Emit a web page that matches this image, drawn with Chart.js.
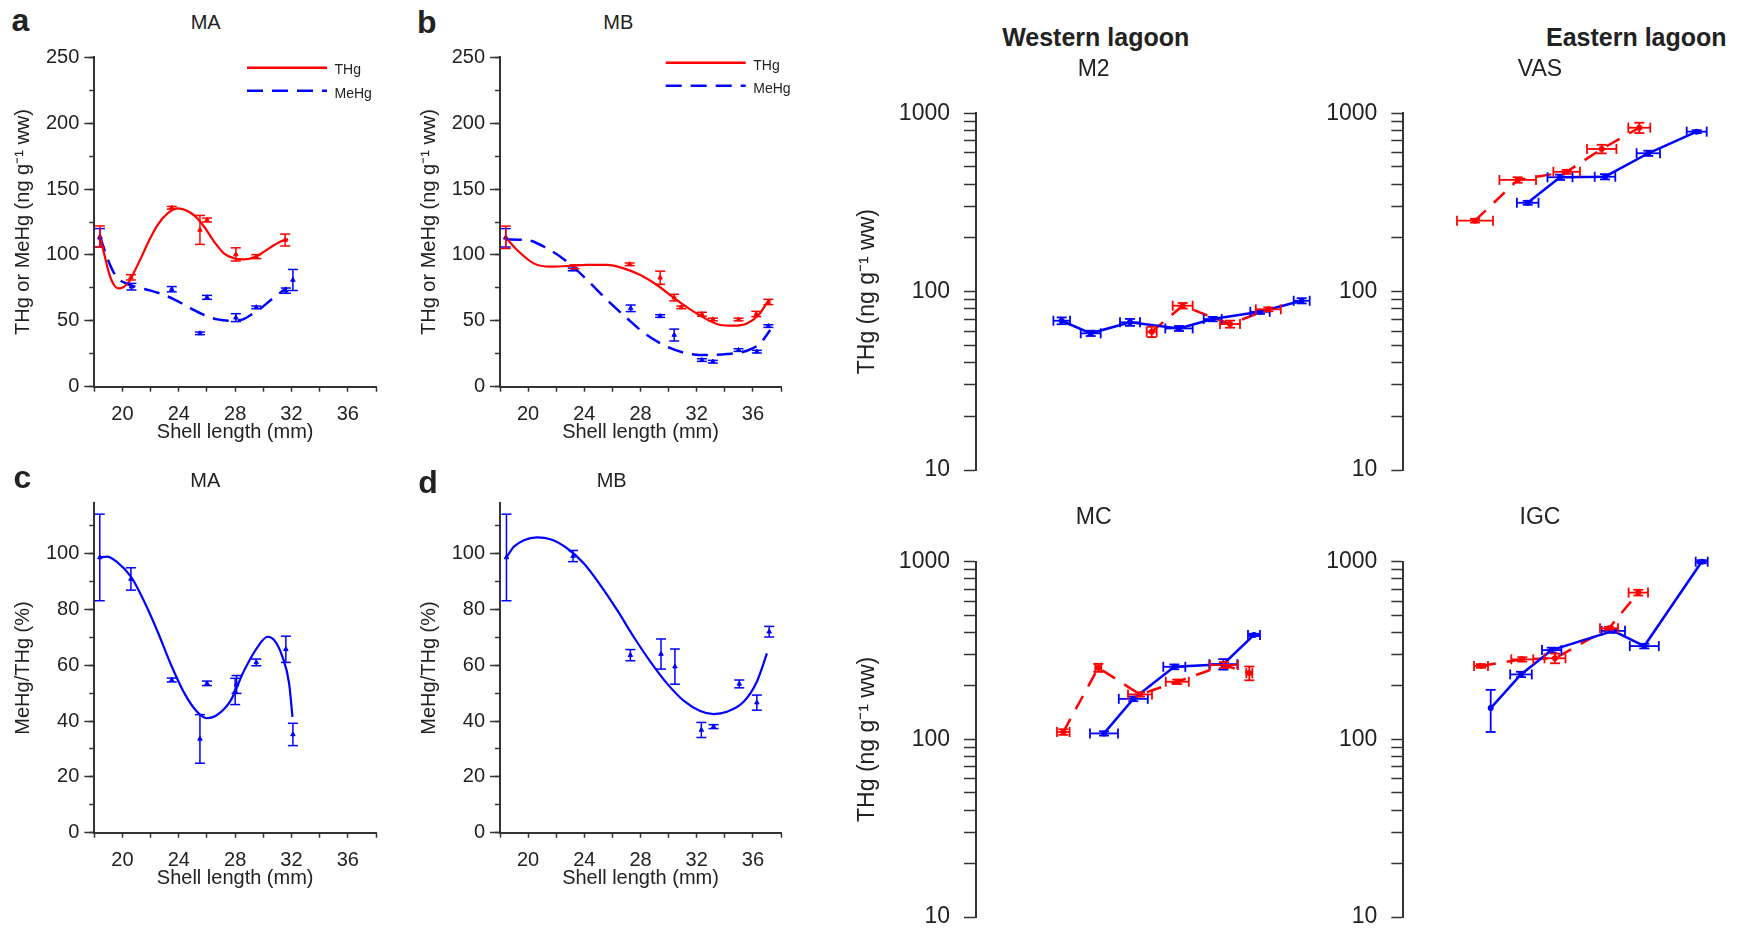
<!DOCTYPE html>
<html><head><meta charset="utf-8">
<script src="https://cdn.jsdelivr.net/npm/chart.js"></script>
<style>
html,body{margin:0;padding:0;background:#fff;width:1742px;height:930px;overflow:hidden;font-family:"Liberation Sans",Arial,Helvetica,sans-serif;}
.box{position:absolute;}
.lbl{position:absolute;white-space:nowrap;color:#222;transform:translateX(-50%);}
</style></head><body>
<script>
// ---------------- Tick values / labels ----------------
const lenTicks = [18,20,22,24,26,28,30,32,34,36,38];
const lenLabels = [20,24,28,32,36];
const concTicks = [0,25,50,75,100,125,150,175,200,225,250];
const concLabels = [0,50,100,150,200,250];
const pctTicks = [0,10,20,30,40,50,60,70,80,90,100,110];
const pctLabels = [0,20,40,60,80,100];
const logTicks = [10,20,30,40,50,60,70,80,90,100,200,300,400,500,600,700,800,900,1000];
const logLabels = [10,100,1000];

// ---------------- Panel a: MA, THg & MeHg (ng g-1 ww) ----------------
const MA_THg_len = [18.4, 20.6, 23.5, 25.5, 26.0, 28.05, 29.5, 31.55];
const MA_THg = [114, 83, 135.8, 119, 126.5, 100.4, 98.7, 111.3];
const MA_THg_sd = [8, 2, 1, 11, 1.5, 5, 1.5, 4.5];
const MA_MeHg_len = [18.4, 20.64, 23.5, 25.5, 26.0, 28.05, 29.5, 31.6, 32.1];
const MA_MeHg = [113, 75.9, 74, 40.5, 67.8, 52.4, 60.2, 72.9, 81];
const MA_MeHg_sd = [7, 2.5, 2, 1, 1.5, 3, 1, 2, 8];
const MA_THg_fit_len = [18.39,18.70,19.05,19.41,19.76,20.12,20.47,20.83,21.30,21.89,22.49,23.20,23.91,24.50,25.09,25.80,26.51,27.22,27.93,28.64,29.35,30.06,30.77,31.48,31.76];
const MA_THg_fit = [114,101,86,77,74.6,75.9,79.7,87,97.4,111,122.7,131.5,135.3,134,130,121.4,110,101,97.4,96.6,98.2,102.5,107.5,111.3,111.8];
const MA_MeHg_fit_len = [18.39,18.93,19.53,20.24,21.07,22.01,22.96,23.91,24.85,25.80,26.75,27.69,28.40,29.11,29.82,30.53,31.24,31.67];
const MA_MeHg_fit = [114.4,97.4,84,78.4,75.4,72.9,69.6,65,59.5,54.4,51.1,50.1,50.6,54.4,59.5,65.8,71.6,75.4];

// ---------------- Panel b: MB ----------------
const MB_THg_len = [18.41, 23.3, 27.23, 29.4, 30.4, 30.9, 32.37, 33.15, 34.98, 36.24, 37.1];
const MB_THg = [113.4, 91, 92.9, 82.7, 67.6, 60.2, 55, 51, 51, 55.2, 64.3];
const MB_THg_sd = [8.5, 1.5, 1, 5, 2.5, 1, 1.5, 1, 1, 2, 2];
const MB_MeHg_len = [18.41, 23.18, 27.3, 29.4, 30.4, 32.37, 33.15, 34.98, 36.28, 37.1];
const MB_MeHg = [113, 89, 59.5, 53.6, 39.2, 20.2, 19, 27.8, 26.6, 46];
const MB_MeHg_sd = [7, 1, 2.5, 1, 4.5, 1, 1, 1, 1, 1];
const MB_THg_fit_len = [18.41,19.22,20.40,21.59,22.77,24.20,25.62,26.80,27.99,29.17,30.36,31.54,32.73,33.68,34.62,35.57,36.40,36.99,37.23];
const MB_THg_fit = [113.4,103.7,93.6,91.1,91.6,92.4,92.4,89.8,84.8,77.2,67.6,58.7,51.1,46.8,46.3,48,54.4,63.3,65.8];
const MB_MeHg_fit_len = [18.41,19.93,21.35,22.77,24.20,25.62,27.04,28.46,29.88,31.31,32.73,34.15,35.57,36.52,37.23];
const MB_MeHg_fit = [111.8,111.3,105,94.9,81,65.8,51.9,39.2,30.4,25.3,24,24.8,27.3,32.9,43];

// ---------------- Panel c: MA, MeHg/THg (%) ----------------
const MA_pct_len = [18.39, 20.6, 23.5, 25.5, 26.0, 28.0, 28.1, 29.5, 31.6, 32.1];
const MA_pct = [98.6, 90.9, 54.7, 33.6, 53.5, 50.6, 53.1, 61, 65.7, 35.2];
const MA_pct_sd = [15.5, 4, 0.7, 8.7, 0.8, 4.7, 3.2, 1.2, 4.7, 4];
const MA_pct_fit_len = [18.39,18.9,19.6,20.6,21.5,22.5,23.4,24.4,25.3,26.0,26.7,27.7,28.6,29.6,30.3,30.77,31.36,31.83,32.07];
const MA_pct_fit = [98.6,98.9,97,91.7,83.3,72,60.7,49.9,43.3,41,42.1,47.5,57.7,66.6,70.2,69,63,53.5,41.5];

// ---------------- Panel d: MB, MeHg/THg (%) ----------------
const MB_pct_len = [18.46, 23.2, 27.28, 29.46, 30.45, 32.33, 33.2, 35.03, 36.28, 37.16];
const MB_pct = [98.6, 99.1, 63.6, 64, 59.5, 36.8, 38, 53.3, 46.6, 72];
const MB_pct_sd = [15.5, 2, 2, 5.4, 6.3, 2.7, 0.7, 1.4, 2.7, 1.9];
const MB_pct_fit_len = [18.46,18.98,19.7,20.64,21.59,22.77,23.96,25.14,26.33,27.51,28.7,29.88,31.07,32.25,33.2,34.15,35.34,36.28,37.0];
const MB_pct_fit = [98.6,102.4,104.8,105.8,105.1,101.9,96.5,88.7,79.8,70.2,61.3,53.5,47.3,43.6,42.5,43.3,46.9,54.1,64.2];

// ---------------- Right panels: THg (log), hidden length axis ----------------
const M2_blue_len = [20.57, 23.47, 27.4, 32.3, 35.67, 40.4, 44.57];
const M2_blue = [68.7, 58.4, 67.3, 62.2, 70.2, 77.1, 88.9];
const M2_blue_lsd = [0.83, 1.0, 1.0, 1.37, 0.9, 0.97, 0.8];
const M2_blue_sd = [3, 2, 3, 2, 2, 2, 3];
const M2_red_len = [29.57, 32.67, 37.4, 41.23];
const M2_red = [59.6, 83.4, 65.8, 79.6];
const M2_red_lsd = [0.5, 1.0, 1.0, 1.25];
const M2_red_sd = [4, 3, 3, 2];

const VAS_red_len = [19.17, 23.44, 28.34, 31.84, 35.6];
const VAS_red = [250, 423, 470, 631, 830];
const VAS_red_lsd = [1.8, 1.83, 1.33, 1.47, 1.1];
const VAS_red_sd = [6, 15, 12, 35, 55];
const VAS_blue_len = [24.44, 27.67, 32.17, 36.5, 41.34];
const VAS_blue = [315, 438, 441, 597, 789];
const VAS_blue_lsd = [1.08, 1.25, 1.03, 1.17, 1.0];
const VAS_blue_sd = [8, 15, 15, 20, 15];

const MC_red_len = [20.73, 24.23, 28.4, 32.13, 36.8, 39.33];
const MC_red = [110, 253, 179, 211, 262, 236];
const MC_red_lsd = [0.63, 0.3, 1.2, 1.15, 1.4, 0.3];
const MC_red_sd = [4, 13, 5, 6, 10, 21];
const MC_blue_len = [24.8, 27.73, 31.83, 36.73, 39.8];
const MC_blue = [108, 169, 256, 265, 387];
const MC_blue_lsd = [1.4, 1.45, 1.1, 1.4, 0.6];
const MC_blue_sd = [3, 5, 8, 18, 6];

const IGC_blue_len = [20.74, 23.77, 26.84, 33.0, 36.1, 41.84];
const IGC_blue = [150, 232, 318, 408, 335, 1000];
const IGC_blue_lsd = [0, 1.08, 0.97, 1.17, 1.45, 0.6];
const IGC_blue_sd = [40, 8, 10, 10, 10, 20];
const IGC_red_len = [19.77, 23.9, 27.17, 32.57, 35.5];
const IGC_red = [259, 282, 286, 422, 670];
const IGC_red_lsd = [0.7, 1.1, 1.05, 0.9, 0.97];
const IGC_red_sd = [6, 8, 18, 8, 25];

// ---------------- Rendering helpers ----------------
const FONT = '"Liberation Sans", Arial, Helvetica, sans-serif';
const RED = '#ff0000', BLUE = '#0000ff', AXIS = '#333333', TXT = '#222222';

function pts(xs, ys){ return xs.map((x, i) => ({x: x, y: ys[i]})); }

function addText(txt, cx, base, size, bold){
  const d = document.createElement('div');
  d.className = 'lbl';
  d.textContent = txt;
  d.style.left = cx + 'px';
  d.style.top = (base - 0.8465 * size) + 'px';
  d.style.fontSize = size + 'px';
  d.style.lineHeight = size + 'px';
  if (bold) d.style.fontWeight = 'bold';
  document.body.appendChild(d);
}

const errPlugin = {
  id: 'errbars',
  afterDatasetsDraw(chart){
    const ctx = chart.ctx;
    chart.data.datasets.forEach(ds => {
      if (!ds.errY && !ds.errX) return;
      const xs = chart.scales.x, ys = chart.scales.y;
      const cap = ds.capSize || 5;
      ctx.save();
      ctx.strokeStyle = ds.borderColor;
      ctx.lineWidth = ds.errWidth || 1.5;
      ctx.setLineDash([]);
      const seg = (a, b, c, d) => { ctx.beginPath(); ctx.moveTo(a, b); ctx.lineTo(c, d); ctx.stroke(); };
      ds.data.forEach((p, j) => {
        const px = xs.getPixelForValue(p.x), py = ys.getPixelForValue(p.y);
        if (ds.errY && ds.errY[j]) {
          const e = ds.errY[j];
          const y1 = ys.getPixelForValue(p.y + e);
          const y2 = ys.getPixelForValue(Math.max(p.y - e, 1e-6));
          seg(px, y1, px, y2); seg(px - cap, y1, px + cap, y1); seg(px - cap, y2, px + cap, y2);
        }
        if (ds.errX && ds.errX[j]) {
          const e = ds.errX[j];
          const x1 = xs.getPixelForValue(p.x - e), x2 = xs.getPixelForValue(p.x + e);
          seg(x1, py, x2, py); seg(x1, py - cap, x1, py + cap); seg(x2, py - cap, x2, py + cap);
        }
      });
      ctx.restore();
    });
  }
};

function legendPlugin(box, L){
  return {
    id: 'fitLegend',
    afterDraw(chart){
      const ctx = chart.ctx;
      L.items.forEach(it => {
        ctx.save();
        ctx.strokeStyle = it.color; ctx.lineWidth = 2.5; ctx.setLineDash(it.dash);
        ctx.beginPath(); ctx.moveTo(L.x1 - box.x, it.ly - box.y); ctx.lineTo(L.x2 - box.x, it.ly - box.y); ctx.stroke();
        ctx.setLineDash([]);
        ctx.fillStyle = TXT; ctx.font = '14px ' + FONT; ctx.textAlign = 'left'; ctx.textBaseline = 'alphabetic';
        ctx.fillText(it.text, L.tx - box.x, it.ty - box.y);
        ctx.restore();
      });
    }
  };
}

function mount(box, area, yW, xH, config, extraPlugins){
  const div = document.createElement('div');
  div.className = 'box';
  div.style.left = box.x + 'px'; div.style.top = box.y + 'px';
  div.style.width = box.w + 'px'; div.style.height = box.h + 'px';
  const cv = document.createElement('canvas');
  div.appendChild(cv);
  document.body.appendChild(div);
  config.options.layout = {padding: {
    left: area.l - box.x - yW, top: area.t - box.y,
    right: box.x + box.w - area.r, bottom: box.y + box.h - area.b - xH }};
  config.options.responsive = true;
  config.options.maintainAspectRatio = false;
  config.options.animation = false;
  config.options.devicePixelRatio = 1;
  config.options.events = [];
  config.options.plugins = {legend: {display: false}, tooltip: {enabled: false}, title: {display: false}};
  config.plugins = [errPlugin].concat(extraPlugins || []);
  return new Chart(cv, config);
}

function fitLine(xs, ys, color, dash){
  return {data: pts(xs, ys), showLine: true, borderColor: color, backgroundColor: color, borderWidth: dash ? 2.5 : 2.2,
          borderDash: dash || [], pointRadius: 0, cubicInterpolationMode: 'monotone', clip: false};
}
function errPoints(xs, ys, sd, color){
  return {data: pts(xs, ys), showLine: false, borderColor: color, backgroundColor: color, pointStyle: 'triangle',
          pointRadius: 2.6, pointBorderWidth: 1, errY: sd, capSize: 5, errWidth: 1.5, clip: false};
}

function leftPanel(box, area, datasets, yMax, yMajor, yMajorLabels, yMinor, yTitle, legend){
  const yW = 83, xH = 58;
  const f = {family: FONT, size: 20};
  const cfg = {
    type: 'scatter',
    data: {datasets: datasets},
    options: {
      scales: {
        x: {type: 'linear', min: 18, max: 38,
            afterBuildTicks: s => { s.ticks = lenTicks.map(v => ({value: v})); },
            afterFit: s => { s.height = xH; },
            ticks: {autoSkip: false, maxRotation: 0, padding: 11, font: f, color: TXT,
                    callback: v => lenLabels.includes(v) ? String(v) : ''},
            grid: {drawOnChartArea: false, drawTicks: true, tickLength: 5, tickWidth: 1.5, tickColor: AXIS},
            border: {display: true, color: AXIS, width: 2},
            title: {display: true, text: 'Shell length (mm)', font: f, color: TXT, padding: 0}},
        y: {type: 'linear', position: 'left', weight: 1, min: 0, max: yMax,
            afterBuildTicks: s => { s.ticks = yMajor.map(v => ({value: v})); },
            afterFit: s => { s.width = yW; },
            ticks: {autoSkip: false, padding: 5, font: f, color: TXT,
                    callback: v => yMajorLabels.includes(v) ? String(v) : ''},
            grid: {drawOnChartArea: false, drawTicks: true, tickLength: 10, tickWidth: 1.5, tickColor: AXIS},
            border: {display: true, color: AXIS, width: 2},
            title: {display: true, text: yTitle, font: f, color: TXT, padding: 0}},
        y2: {type: 'linear', position: 'left', weight: 0, min: 0, max: yMax,
            afterBuildTicks: s => { s.ticks = yMinor.map(v => ({value: v})); },
            afterFit: s => { s.width = 0; },
            ticks: {display: false, autoSkip: false},
            grid: {drawOnChartArea: false, drawTicks: true, tickLength: 5, tickWidth: 1.5, tickColor: AXIS},
            border: {display: false}}
      }
    }
  };
  return mount(box, area, yW, xH, cfg, legend ? [legendPlugin(box, legend)] : []);
}

function series(xs, ys, lsd, sd, color, dashed){
  return {data: pts(xs, ys), showLine: true, tension: 0, borderColor: color, backgroundColor: color,
          borderWidth: 2.5, borderDash: dashed ? [15, 11] : [], pointStyle: 'circle', pointRadius: 3,
          pointBorderWidth: 0, errX: lsd, errY: sd, capSize: 5, errWidth: 1.8, clip: false};
}

function rightPanel(box, area, yW, title, datasets){
  const f = {family: FONT, size: 23};
  const cfg = {
    type: 'scatter',
    data: {datasets: datasets},
    options: {
      scales: {
        x: {type: 'linear', min: 12, max: 45, display: false},
        y: {type: 'logarithmic', position: 'left', min: 10, max: 1000,
            afterBuildTicks: s => { s.ticks = logTicks.map(v => ({value: v})); },
            afterFit: s => { s.width = yW; },
            ticks: {autoSkip: false, padding: 14, font: f, color: TXT,
                    callback: v => logLabels.includes(v) ? String(v) : ''},
            grid: {drawOnChartArea: false, drawTicks: true, tickLength: 12, tickWidth: 1.5, tickColor: AXIS},
            border: {display: true, color: AXIS, width: 2},
            title: {display: !!title, text: title || '', font: f, color: TXT, padding: 0}}
      }
    }
  };
  return mount(box, area, yW, 0, cfg, []);
}

// ---------------- Left panels ----------------
const concTitle = 'THg or MeHg (ng g\u207B\u00B9 ww)';
leftPanel({x: 0, y: 40, w: 420, h: 420}, {l: 94.3, t: 57.3, r: 376, b: 386.7}, [
  errPoints(MA_MeHg_len, MA_MeHg, MA_MeHg_sd, BLUE),
  errPoints(MA_THg_len, MA_THg, MA_THg_sd, RED),
  fitLine(MA_THg_fit_len, MA_THg_fit, RED),
  fitLine(MA_MeHg_fit_len, MA_MeHg_fit, BLUE, [16, 9])
], 250, concLabels, concLabels, concTicks, concTitle,
  {x1: 247, x2: 327, tx: 334.5, items: [
    {text: 'THg', color: RED, dash: [], ly: 67.7, ty: 73.5},
    {text: 'MeHg', color: BLUE, dash: [16, 9], ly: 90.7, ty: 97.5}]});

leftPanel({x: 410, y: 40, w: 400, h: 420}, {l: 500, t: 57.3, r: 781, b: 386.7}, [
  errPoints(MB_MeHg_len, MB_MeHg, MB_MeHg_sd, BLUE),
  errPoints(MB_THg_len, MB_THg, MB_THg_sd, RED),
  fitLine(MB_THg_fit_len, MB_THg_fit, RED),
  fitLine(MB_MeHg_fit_len, MB_MeHg_fit, BLUE, [16, 9])
], 250, concLabels, concLabels, concTicks, concTitle,
  {x1: 665.7, x2: 745.7, tx: 753.3, items: [
    {text: 'THg', color: RED, dash: [], ly: 62.7, ty: 69.5},
    {text: 'MeHg', color: BLUE, dash: [16, 9], ly: 85.7, ty: 93}]});

leftPanel({x: 0, y: 485, w: 420, h: 430}, {l: 94.3, t: 503.3, r: 376, b: 832.7}, [
  errPoints(MA_pct_len, MA_pct, MA_pct_sd, BLUE),
  fitLine(MA_pct_fit_len, MA_pct_fit, BLUE)
], 118, pctLabels, pctLabels, pctTicks, 'MeHg/THg (%)', null);

leftPanel({x: 410, y: 485, w: 400, h: 430}, {l: 500, t: 503.3, r: 781, b: 832.7}, [
  errPoints(MB_pct_len, MB_pct, MB_pct_sd, BLUE),
  fitLine(MB_pct_fit_len, MB_pct_fit, BLUE)
], 118, pctLabels, pctLabels, pctTicks, 'MeHg/THg (%)', null);

// ---------------- Right panels ----------------
const thgTitle = 'THg (ng g\u207B\u00B9 ww)';
rightPanel({x: 840, y: 80, w: 480, h: 425}, {l: 976, t: 113.3, r: 1306, b: 470}, 121.8, thgTitle, [
  series(M2_blue_len, M2_blue, M2_blue_lsd, M2_blue_sd, BLUE, false),
  series(M2_red_len, M2_red, M2_red_lsd, M2_red_sd, RED, true)
]);
rightPanel({x: 1290, y: 80, w: 452, h: 425}, {l: 1403.3, t: 113.3, r: 1733.3, b: 470}, 100, null, [
  series(VAS_blue_len, VAS_blue, VAS_blue_lsd, VAS_blue_sd, BLUE, false),
  series(VAS_red_len, VAS_red, VAS_red_lsd, VAS_red_sd, RED, true)
]);
rightPanel({x: 840, y: 525, w: 480, h: 425}, {l: 976, t: 561.7, r: 1306, b: 917}, 121.8, thgTitle, [
  series(MC_blue_len, MC_blue, MC_blue_lsd, MC_blue_sd, BLUE, false),
  series(MC_red_len, MC_red, MC_red_lsd, MC_red_sd, RED, true)
]);
rightPanel({x: 1290, y: 525, w: 452, h: 425}, {l: 1403.3, t: 561.7, r: 1733.3, b: 917}, 100, null, [
  series(IGC_blue_len, IGC_blue, IGC_blue_lsd, IGC_blue_sd, BLUE, false),
  series(IGC_red_len, IGC_red, IGC_red_lsd, IGC_red_sd, RED, true)
]);

// ---------------- Panel letters and titles ----------------
addText('a', 20.5, 30.7, 32, true);
addText('b', 426.7, 33.3, 32, true);
addText('c', 22.5, 488.3, 32, true);
addText('d', 428, 492.7, 32, true);
addText('MA', 205.7, 29.3, 20);
addText('MB', 618.3, 29.3, 20);
addText('MA', 205.3, 486.7, 20);
addText('MB', 611.7, 486.7, 20);
addText('Western lagoon', 1095.7, 46, 25, true);
addText('Eastern lagoon', 1636.3, 46, 25, true);
addText('M2', 1093.7, 76.7, 23);
addText('VAS', 1540, 76.7, 23);
addText('MC', 1093.7, 524.3, 23);
addText('IGC', 1540, 524.3, 23);
</script>
</body></html>
